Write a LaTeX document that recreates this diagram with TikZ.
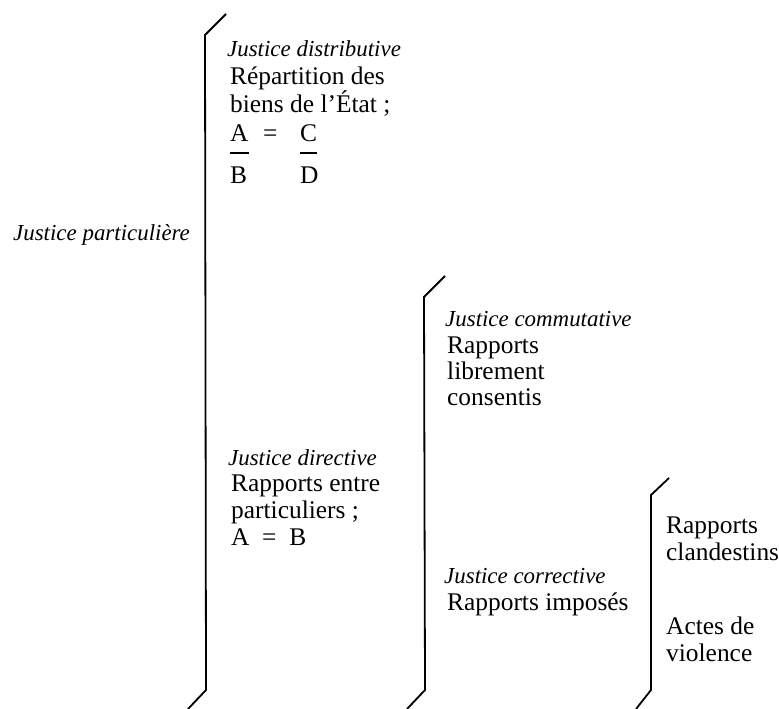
\documentclass[tikz,border=0pt]{standalone}
\usepackage{fontspec}
\setmainfont{Liberation Serif}
\usetikzlibrary{positioning}

\begin{document}
\begin{tikzpicture}[x=1bp, y=-1bp,
    txt/.style={anchor=base west, inner sep=0pt, align=left, font=\fontsize{25.5}{27}\selectfont},
    ttl/.style={anchor=base west, inner sep=0pt, font=\fontsize{23}{27}\selectfont\itshape},
    brk/.style={line width=1.8bp},
    bar/.style={line width=1.1bp}]
    \useasboundingbox (0,0) rectangle (779,709);

    % first level
    \node[ttl] (part) at (13,240) {Justice particulière};
    \draw[brk] (226,14) -- (205,35) -- (206,690) -- (188,709);

    % distributive (multi-line nodes sit on their last line)
    \node[ttl] (dist) at (227,57) {Justice distributive};
    \node[txt] (rep) at (230,113) {Répartition des\\biens de l'État ;};
    \node[txt] (a1) at (230,142) {A};
    \node[txt] (eq1) at (263,142) {=};
    \node[txt] (c1) at (300,142) {C};
    \node[txt] (b1) at (230,183) {B};
    \node[txt] (d1) at (300,183) {D};
    \draw[bar] ([yshift=-11bp]a1.base west) -- ([yshift=-11bp]a1.base east);
    \draw[bar] ([yshift=-11bp]c1.base west) -- ([yshift=-11bp]c1.base east);

    % directive
    \node[ttl] (dir) at (228,465) {Justice directive};
    \node[txt] (rent) at (231,545) {Rapports entre\\particuliers ;\\A\enspace=\enspace B};
    \draw[brk] (445,276) -- (424,297) -- (425,690) -- (407,709);

    % commutative / corrective
    \node[ttl] (comm) at (445,326) {Justice commutative};
    \node[txt, font=\fontsize{25.5}{26}\selectfont] (libre) at (447,405) {Rapports\\librement\\consentis};
    \node[ttl] (corr) at (444,583) {Justice corrective};
    \node[txt] (impo) at (447,610) {Rapports imposés};
    \draw[brk] (669,478) -- (651,495) -- (651,690) -- (636,709);

    % last level
    \node[txt] (cland) at (666,560) {Rapports\\clandestins};
    \node[txt] (viol) at (666,661) {Actes de\\violence};
\end{tikzpicture}
\end{document}
